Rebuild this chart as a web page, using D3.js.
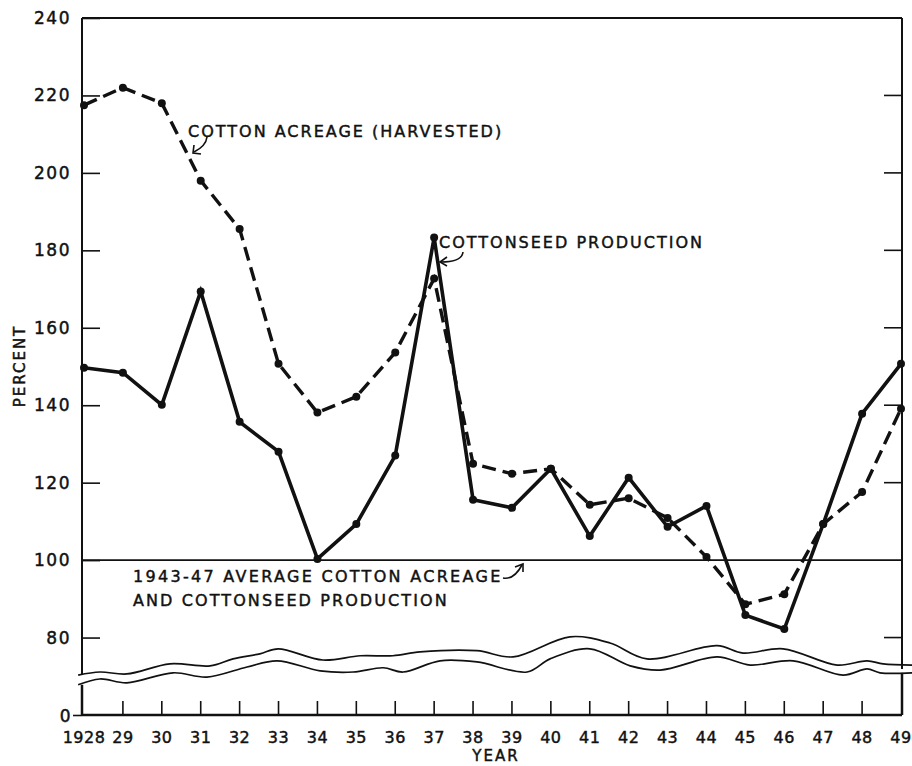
<!DOCTYPE html>
<html>
<head>
<meta charset="utf-8">
<script src="https://cdn.jsdelivr.net/npm/d3@7"></script>
<style>
  body { margin: 0; background: #fff; }
  text { font-family: "DejaVu Sans", sans-serif; fill: #111; stroke: #111; stroke-width: 0.45px; }
</style>
</head>
<body>
<script>
// years and labels
var years = [1928, 1929, 1930, 1931, 1932, 1933, 1934, 1935, 1936, 1937, 1938,
             1939, 1940, 1941, 1942, 1943, 1944, 1945, 1946, 1947, 1948, 1949];
var yearLabels = ["1928", "29", "30", "31", "32", "33", "34", "35", "36", "37", "38",
                  "39", "40", "41", "42", "43", "44", "45", "46", "47", "48", "49"];

// percent of 1943-47 average
var acreage = [217.5, 222, 218, 198, 185.5, 150.7, 138.1, 142.2, 153.6, 172.7, 124.9,
               122.3, 123.6, 114.3, 116, 110.9, 100.8, 88.6, 91.2, 109.3, 117.6, 139.1];
var cottonseed = [149.7, 148.4, 140.1, 169.4, 135.7, 128, 100.3, 109.3, 127, 183.3, 115.6,
                  113.5, 123.6, 106.2, 121.3, 108.6, 114, 85.8, 82.2, 109.3, 137.8, 150.7];

var yTicks = [0, 80, 100, 120, 140, 160, 180, 200, 220, 240];
var rightTicks = [80, 120, 140, 160, 180, 200, 220];

// scale-break wavy lines (year, value)
var waveTopYears = [1927.85, 1928.41, 1929.1, 1930.21, 1931.24, 1931.83, 1932.52, 1932.99, 1934.14, 1935.1,
                    1935.94, 1936.64, 1938.1, 1939.03, 1940.49, 1941.52, 1942.47, 1944.27, 1944.94, 1945.97,
                    1947.36, 1948.13, 1948.54, 1949.29];
var waveTopValues = [70.3, 71.1, 70.6, 73.2, 72.7, 74.5, 75.8, 77.1, 74.2, 75.3,
                     75.3, 76.3, 76.6, 75.0, 80.2, 78.6, 74.5, 77.9, 76.0, 77.1,
                     72.9, 74.0, 73.2, 72.9];
var waveBottomYears = [1927.85, 1928.41, 1929.1, 1930.29, 1931.16, 1932.19, 1932.96, 1934.07, 1934.92, 1935.69,
                       1936.2, 1937.15, 1938.1, 1939.39, 1939.98, 1941.0, 1942.04, 1942.81, 1944.27, 1945.12,
                       1946.23, 1947.51, 1948.13, 1948.46, 1949.29];
var waveBottomValues = [67.8, 69.3, 68.3, 70.9, 69.8, 72.4, 74.0, 71.4, 71.1, 72.2,
                        71.1, 74.0, 73.7, 71.1, 74.5, 77.1, 72.7, 71.6, 75.0, 72.9,
                        74.0, 70.3, 71.9, 70.9, 70.9];

var width = 912, height = 766;

var svg = d3.select("body").append("svg").attr("width", width).attr("height", height);

var x = d3.scaleLinear().domain([1928, 1949]).range([84, 901]);
// broken axis: 0 sits where 60 would be
var y = d3.scaleLinear().domain([0, 60, 240]).range([715, 715, 18]);

var leftX = x(1928) - 2;
var rightX = x(1949) + 1;

// frame: top line
svg.append("line")
  .attr("x1", leftX).attr("x2", rightX)
  .attr("y1", y(240)).attr("y2", y(240))
  .style("stroke", "#111").style("stroke-width", 2);

// x axis line
svg.append("line")
  .attr("x1", leftX).attr("x2", rightX)
  .attr("y1", y(0)).attr("y2", y(0))
  .style("stroke", "#111").style("stroke-width", 2.5);

// side axes, broken at the wavy lines
var sides = [
  { xp: leftX, top: waveTopValues[0], bottom: waveBottomValues[0] },
  { xp: rightX, top: waveTopValues[waveTopValues.length - 1] - 1, bottom: waveBottomValues[waveBottomValues.length - 1] }
];
sides.forEach(function (s) {
  svg.append("line")
    .attr("x1", s.xp).attr("x2", s.xp)
    .attr("y1", y(240)).attr("y2", y(s.top))
    .style("stroke", "#111").style("stroke-width", 2);
  svg.append("line")
    .attr("x1", s.xp).attr("x2", s.xp)
    .attr("y1", y(s.bottom)).attr("y2", y(0))
    .style("stroke", "#111").style("stroke-width", 2.5);
});

// left axis ticks + labels
var yAxis = d3.axisLeft(y)
  .tickValues(yTicks)
  .tickSizeInner(-18)
  .tickSizeOuter(0)
  .tickPadding(11)
  .tickFormat(d3.format("d"));

var gy = svg.append("g")
  .attr("transform", "translate(" + leftX + ",0)")
  .call(yAxis);
gy.select(".domain").remove();
gy.selectAll(".tick line").style("stroke", "#111").style("stroke-width", 1.6);
gy.selectAll(".tick text")
  .style("font-size", "17px")
  .style("letter-spacing", "1.5px")
  .style("font-family", "'DejaVu Sans', sans-serif")
  .attr("fill", "#111");
// 0 tick points outward
gy.selectAll(".tick").filter(function (d) { return d === 0; })
  .select("line").attr("x2", -9);
gy.selectAll(".tick").filter(function (d) { return d === 0; })
  .select("text").attr("x", -10).attr("dy", "0.36em");

// right axis ticks
svg.append("g").selectAll("line")
  .data(rightTicks)
  .enter()
  .append("line")
  .attr("x1", rightX - 18).attr("x2", rightX)
  .attr("y1", function (d) { return y(d); })
  .attr("y2", function (d) { return y(d); })
  .style("stroke", "#111").style("stroke-width", 1.6);

// x ticks (upward) and labels
svg.append("g").selectAll("line")
  .data(years.slice(1, years.length - 1))
  .enter()
  .append("line")
  .attr("x1", function (d) { return x(d); })
  .attr("x2", function (d) { return x(d); })
  .attr("y1", y(0))
  .attr("y2", y(0) - 14)
  .style("stroke", "#111").style("stroke-width", 1.6);

svg.append("g").selectAll("text")
  .data(years)
  .enter()
  .append("text")
  .attr("x", function (d) { return x(d); })
  .attr("y", 743)
  .attr("text-anchor", "middle")
  .style("font-size", "16px")
  .style("letter-spacing", "0.5px")
  .text(function (d, i) { return yearLabels[i]; });

svg.append("text")
  .attr("x", 496).attr("y", 761)
  .attr("text-anchor", "middle")
  .style("font-size", "15px")
  .style("letter-spacing", "2px")
  .text("YEAR");

svg.append("text")
  .attr("transform", "translate(25,366) rotate(-90)")
  .attr("text-anchor", "middle")
  .style("font-size", "15px")
  .style("letter-spacing", "2px")
  .text("PERCENT");

// reference line at 100
svg.append("line")
  .attr("x1", leftX).attr("x2", rightX)
  .attr("y1", y(100)).attr("y2", y(100))
  .style("stroke", "#111").style("stroke-width", 1.8);

// wavy break lines
var wave = d3.line()
  .x(function (d) { return x(d[0]); })
  .y(function (d) { return y(d[1]); })
  .curve(d3.curveCatmullRom);

svg.append("path")
  .datum(waveTopYears.map(function (d, i) { return [d, waveTopValues[i]]; }))
  .attr("d", wave)
  .style("fill", "none").style("stroke", "#111").style("stroke-width", 1.7);
svg.append("path")
  .datum(waveBottomYears.map(function (d, i) { return [d, waveBottomValues[i]]; }))
  .attr("d", wave)
  .style("fill", "none").style("stroke", "#111").style("stroke-width", 1.7);

// data lines
var line = d3.line()
  .x(function (d, i) { return x(years[i]); })
  .y(function (d) { return y(d); });

svg.append("path")
  .datum(acreage)
  .attr("d", line)
  .style("fill", "none")
  .style("stroke", "#111")
  .style("stroke-width", 3.4)
  .style("stroke-dasharray", "14,7");

svg.append("path")
  .datum(cottonseed)
  .attr("d", line)
  .style("fill", "none")
  .style("stroke", "#111")
  .style("stroke-width", 3.6);

[acreage, cottonseed].forEach(function (series, s) {
  svg.append("g").selectAll("circle")
    .data(series)
    .enter()
    .append("circle")
    .attr("cx", function (d, i) { return x(years[i]); })
    .attr("cy", function (d) { return y(d); })
    .attr("r", 4)
    .style("fill", "#111");
});

// annotations
var labels = [
  { text: "COTTON ACREAGE (HARVESTED)", x: 188, y: 137, ls: 2 },
  { text: "COTTONSEED PRODUCTION", x: 439, y: 248, ls: 2 },
  { text: "1943-47 AVERAGE COTTON ACREAGE", x: 133, y: 582, ls: 2.3 },
  { text: "AND COTTONSEED PRODUCTION", x: 133, y: 606, ls: 2.1 }
];
svg.append("g").selectAll("text")
  .data(labels)
  .enter()
  .append("text")
  .attr("x", function (d) { return d.x; })
  .attr("y", function (d) { return d.y; })
  .style("font-size", "16px")
  .style("letter-spacing", function (d) { return d.ls + "px"; })
  .text(function (d) { return d.text; });

var arrows = [
  { d: "M207,137 Q206,146 194,152", head: "M194,145 L193,153 L201,154" },
  { d: "M463,252 Q462,262 441,262", head: "M447,257 L440,262 L447,266" },
  { d: "M503,578 Q514,580 522,565", head: "M515,567 L523,564 L523,572" }
];
arrows.forEach(function (a) {
  svg.append("path").attr("d", a.d)
    .style("fill", "none").style("stroke", "#111").style("stroke-width", 1.6);
  svg.append("path").attr("d", a.head)
    .style("fill", "none").style("stroke", "#111").style("stroke-width", 1.6);
});
</script>
</body>
</html>
